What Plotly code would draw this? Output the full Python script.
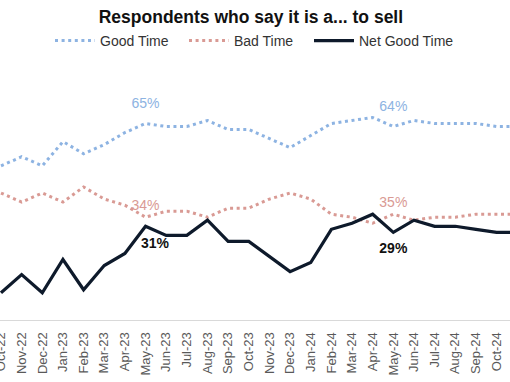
import plotly.graph_objects as go

months = ["Oct-22", "Nov-22", "Dec-22", "Jan-23", "Feb-23", "Mar-23", "Apr-23", "May-23",
          "Jun-23", "Jul-23", "Aug-23", "Sep-23", "Oct-23", "Nov-23", "Dec-23", "Jan-24",
          "Feb-24", "Mar-24", "Apr-24", "May-24", "Jun-24", "Jul-24", "Aug-24", "Sep-24",
          "Oct-24", "Nov-24"]
good_time = [51, 54, 51, 59, 55, 58, 62, 65, 64, 64, 66, 63, 63, 60, 57, 61, 65, 66, 67, 64,
             66, 65, 65, 65, 64, 64]
bad_time = [42, 39, 42, 39, 44, 40, 38, 34, 36, 36, 34, 37, 37, 40, 42, 40, 35, 34, 32, 35,
            33, 34, 34, 35, 35, 35]
net_good_time = [9, 15, 9, 20, 10, 18, 22, 31, 28, 28, 33, 26, 26, 21, 16, 19, 30, 32, 35, 29,
                 33, 31, 31, 30, 29, 29]
label_months = ["May-23", "May-24", "Nov-24"]
shifted_net_label = "May-23"   # net label nudged right to clear the line

GOOD_C = "#8DB3E2"
BAD_C = "#D99A94"
NET_C = "#0E1A2B"
FONT = "Arial, Liberation Sans, sans-serif"

fig = go.Figure()
fig.add_trace(go.Scatter(x=months, y=good_time, name="Good Time", mode="lines", legend="legend",
                         line=dict(color=GOOD_C, width=3, dash="3px,3.6px")))
fig.add_trace(go.Scatter(x=months, y=bad_time, name="Bad Time", mode="lines", legend="legend2",
                         line=dict(color=BAD_C, width=3, dash="3px,3.6px")))
fig.add_trace(go.Scatter(x=months, y=net_good_time, name="Net Good Time", mode="lines",
                         legend="legend3", line=dict(color=NET_C, width=3.2)))

def labels(series, skip=()):
    xs, ys, ts = [], [], []
    for m, v in zip(months, series):
        if m in label_months and m not in skip:
            xs.append(m); ys.append(v); ts.append(f"{v}%")
    return xs, ys, ts

# (series, colour, text position, bold, invisible marker size controlling the offset, skip)
for series, color, pos, bold, msize, skip in [
        (good_time, GOOD_C, "top center", False, 17, ()),
        (bad_time, BAD_C, "top center", False, 5, ()),
        (net_good_time, "#111111", "bottom center", True, 14, (shifted_net_label,))]:
    xs, ys, ts = labels(series, skip)
    fig.add_trace(go.Scatter(x=xs, y=ys, text=ts, mode="markers+text", textposition=pos,
                             marker=dict(size=msize, opacity=0),
                             textfont=dict(color=color, size=14, family=FONT,
                                           weight="bold" if bold else "normal"),
                             showlegend=False, cliponaxis=False, hoverinfo="skip"))

v31 = net_good_time[months.index(shifted_net_label)]
fig.add_annotation(x=shifted_net_label, y=v31, text=f"<b>{v31}%</b>", showarrow=False,
                   xshift=10, yshift=-17, font=dict(size=14, color="#111111", family=FONT))

leg_common = dict(orientation="h", xanchor="left", y=1.073, yanchor="middle",
                  font=dict(size=14, color="#333333", family=FONT), itemwidth=40,
                  bgcolor="rgba(0,0,0,0)")

fig.update_layout(
    width=510, height=382,
    margin=dict(l=0, r=0, t=60, b=62, pad=0, autoexpand=False),
    paper_bgcolor="white", plot_bgcolor="white",
    font=dict(family=FONT, color="#333333"),
    title=dict(text="<b>Respondents who say it is a... to sell</b>", x=0.492, xanchor="center",
               y=1 - 17 / 382, yanchor="middle", font=dict(size=17.5, color="#111111", family=FONT)),
    legend=dict(x=50 / 510, **leg_common),
    legend2=dict(x=184 / 510, **leg_common),
    legend3=dict(x=309 / 510, **leg_common),
    xaxis=dict(type="category", range=[-0.048, 24.65], tickangle=-90,
               tickfont=dict(size=13, color="#595959", family=FONT),
               showline=True, linecolor="#D9D9D9", linewidth=1, showgrid=False,
               ticks="", ticklabelstandoff=6, zeroline=False, automargin=False),
    yaxis=dict(range=[0, 86], visible=False, showgrid=False, zeroline=False, automargin=False),
)

fig.write_html("out.html", post_script="document.body.style.margin='0';",
               config={"displayModeBar": False})
